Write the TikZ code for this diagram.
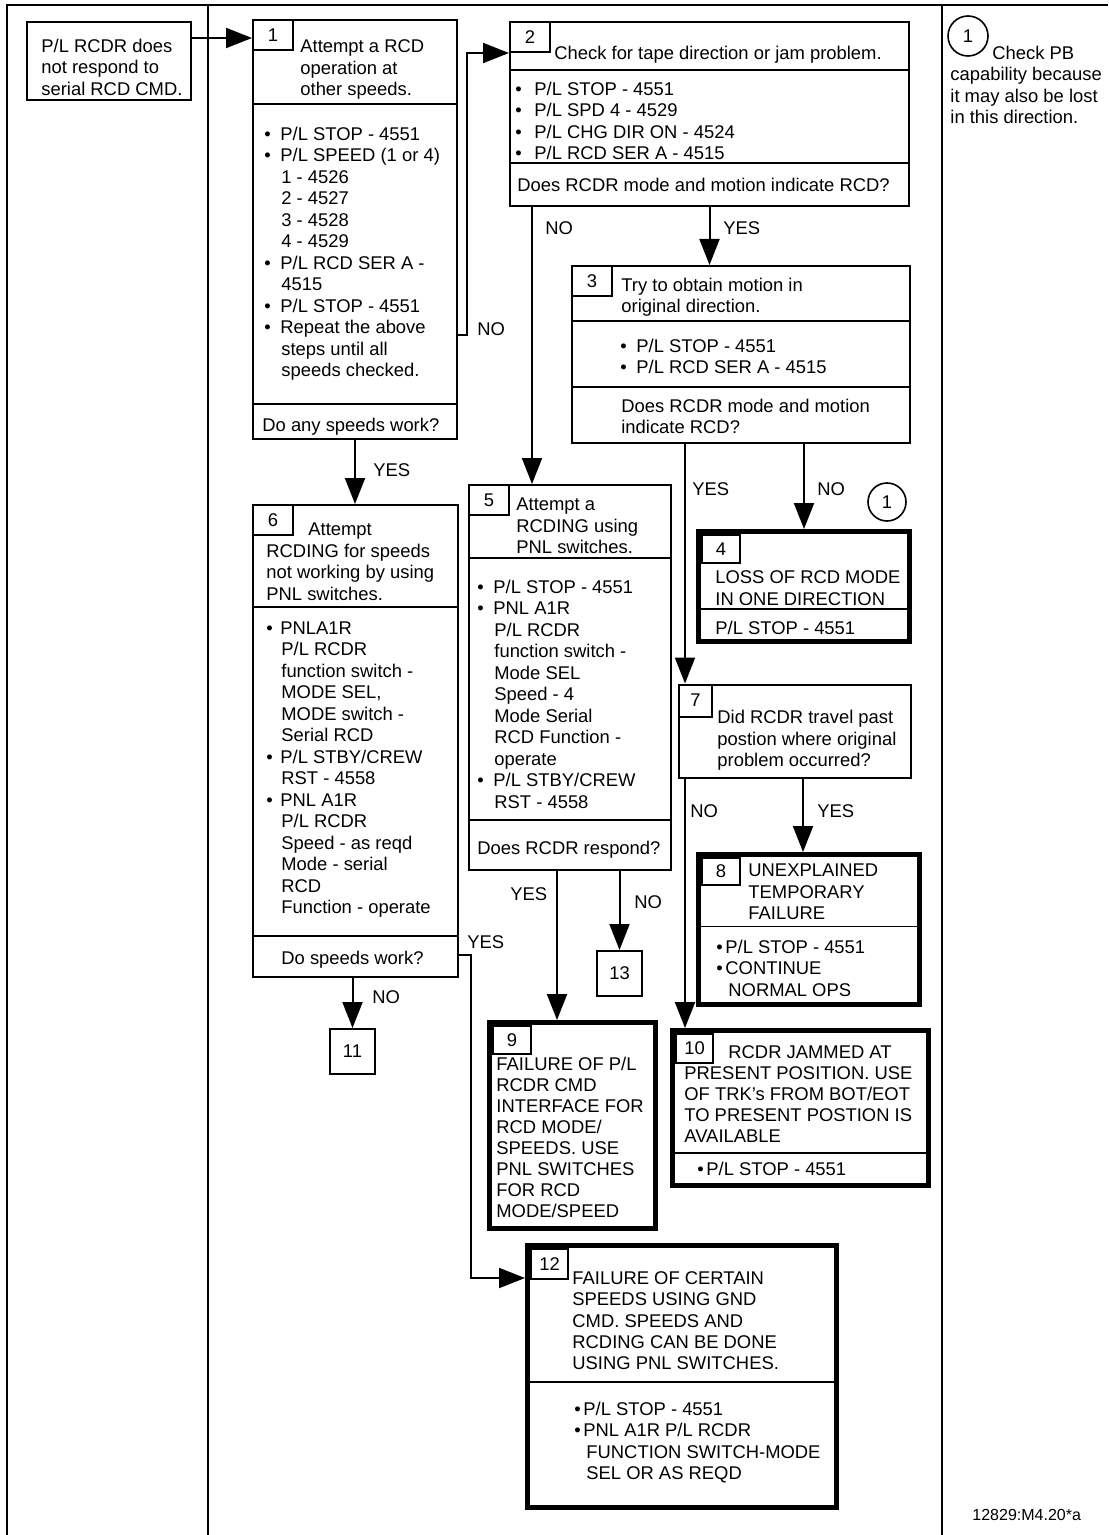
\documentclass[tikz,border=0pt]{standalone}
\usepackage{fontspec}
\setmainfont{Liberation Sans}
\usetikzlibrary{arrows.meta,positioning,fit}
\newcommand{\bl}[1][8pt]{\makebox[#1][l]{\textbullet}}
\newcommand{\ind}[1][8.5pt]{\hspace*{#1}}

\begin{document}
\begin{tikzpicture}[x=0.5pt, y=-0.5pt,
  font=\fontsize{9.2}{10.75}\selectfont,
  box/.style={draw, line width=1pt, inner sep=0pt},
  endbox/.style={draw, line width=2.5pt, inner sep=0pt},
  numbox/.style={draw, line width=1pt, inner sep=0pt, minimum width=20pt,
                 minimum height=15pt, anchor=north west},
  txt/.style={inner sep=0pt, align=left, anchor=north west},
  lbl/.style={inner sep=0pt, anchor=west},
  note/.style={circle, draw, line width=0.8pt, minimum size=20pt, inner sep=0pt},
  sep/.style={line width=1pt},
  thinsep/.style={line width=0.7pt},
  frame/.style={line width=1pt},
  arr/.style={line width=1pt, -{Triangle[length=13pt, width=10pt]}}]
  \useasboundingbox (0,0) rectangle (1108,1535);
  % page frame and columns
  \draw[frame] (7,1535) -- (7,5) -- (1108,5);
  \draw[frame] (208,5) -- (208,1535);
  \draw[frame] (942,5) -- (942,1535);

  % start
  \node[box, fit={(27,22) (191,100)}] (b0) {};
  \node[txt] (t0) at (41,38.5) {P/L RCDR does\\not respond to\\serial RCD CMD.};

  % step 1
  \node[box, fit={(253,20) (457,439)}] (b1) {};
  \node[numbox] (n1) at (b1.north west) {1};
  \draw[sep] (b1.west |- 0,104) -- (b1.east |- 0,104);
  \draw[sep] (b1.west |- 0,404) -- (b1.east |- 0,404);
  \node[txt] (t1h) at (300,39.5) {Attempt a RCD\\operation at\\other speeds.};
  \node[txt] (t1b) at (264,126.5) {\bl P/L STOP - 4551\\\bl P/L SPEED (1 or 4)\\
    \ind 1 - 4526\\\ind 2 - 4527\\\ind 3 - 4528\\\ind 4 - 4529\\
    \bl P/L RCD SER A -\\\ind 4515\\\bl P/L STOP - 4551\\
    \bl Repeat the above\\\ind steps until all\\\ind speeds checked.};
  \node[txt] (t1q) at (262,417.5) {Do any speeds work?};

  % step 2
  \node[box, fit={(510,22) (909,206)}] (b2) {};
  \node[numbox] (n2) at (b2.north west) {2};
  \draw[sep] (b2.west |- 0,70) -- (b2.east |- 0,70);
  \draw[sep] (b2.west |- 0,163) -- (b2.east |- 0,163);
  \node[txt] (t2h) at (554,45.5) {Check for tape direction or jam problem.};
  \node[txt] (t2b) at (515,81.5) {\bl[9.5pt]P/L STOP - 4551\\\bl[9.5pt]P/L SPD 4 - 4529\\
    \bl[9.5pt]P/L CHG DIR ON - 4524\\\bl[9.5pt]P/L RCD SER A - 4515};
  \node[txt] (t2q) at (517,177.5) {Does RCDR mode and motion indicate RCD?};

  % step 3
  \node[box, fit={(572,266) (910,443)}] (b3) {};
  \node[numbox] (n3) at (b3.north west) {3};
  \draw[sep] (b3.west |- 0,321) -- (b3.east |- 0,321);
  \draw[sep] (b3.west |- 0,387) -- (b3.east |- 0,387);
  \node[txt] (t3h) at (621,277.5) {Try to obtain motion in\\original direction.};
  \node[txt] (t3b) at (620,338.5) {\bl P/L STOP - 4551\\\bl P/L RCD SER A - 4515};
  \node[txt] (t3q) at (621,398.5) {Does RCDR mode and motion\\indicate RCD?};

  % step 4
  \node[endbox, fit={(698.5,531.5) (909.5,641.5)}] (b4) {};
  \node[numbox, minimum width=19pt, minimum height=14pt] (n4)
    at ([shift={(2.5pt,-2.5pt)}]b4.north west) {4};
  \draw[thinsep] (b4.west |- 0,609) -- (b4.east |- 0,609);
  \node[txt] (t4h) at (715,570.5) {LOSS OF RCD MODE\\IN ONE DIRECTION};
  \node[txt] (t4b) at (715,620.5) {P/L STOP - 4551};
  \node[note, minimum size=19pt] (c2) at (887,502) {1};

  % step 5
  \node[box, fit={(469,485) (671,870)}] (b5) {};
  \node[numbox] (n5) at (b5.north west) {5};
  \draw[sep] (b5.west |- 0,558) -- (b5.east |- 0,558);
  \draw[sep] (b5.west |- 0,820) -- (b5.east |- 0,820);
  \node[txt] (t5h) at (516,497.5) {Attempt a\\RCDING using\\PNL switches.};
  \node[txt] (t5b) at (477,579.5) {\bl P/L STOP - 4551\\\bl PNL A1R\\
    \ind P/L RCDR\\\ind function switch -\\\ind Mode SEL\\\ind Speed - 4\\
    \ind Mode Serial\\\ind RCD Function -\\\ind operate\\
    \bl P/L STBY/CREW\\\ind RST - 4558};
  \node[txt] (t5q) at (477,840.5) {Does RCDR respond?};

  % step 6
  \node[box, fit={(253,505) (458,977)}] (b6) {};
  \node[numbox] (n6) at (b6.north west) {6};
  \draw[sep] (b6.west |- 0,607) -- (b6.east |- 0,607);
  \draw[sep] (b6.west |- 0,936) -- (b6.east |- 0,936);
  \node[txt] (t6h) at (266,522.5) {\hspace*{21pt}Attempt\\RCDING for speeds\\
    not working by using\\PNL switches.};
  \node[txt] (t6b) at (266,621) {\bl[7pt]PNLA1R\\\ind[7.5pt]P/L RCDR\\
    \ind[7.5pt]function switch -\\\ind[7.5pt]MODE SEL,\\\ind[7.5pt]MODE switch -\\
    \ind[7.5pt]Serial RCD\\\bl[7pt]P/L STBY/CREW\\\ind[7.5pt]RST - 4558\\
    \bl[7pt]PNL A1R\\\ind[7.5pt]P/L RCDR\\\ind[7.5pt]Speed - as reqd\\
    \ind[7.5pt]Mode - serial\\\ind[7.5pt]RCD\\\ind[7.5pt]Function - operate};
  \node[txt] (t6q) at (281,950.5) {Do speeds work?};

  % step 7
  \node[box, fit={(679,684.5) (911,777.5)}] (b7) {};
  \node[numbox, minimum width=16.5pt, minimum height=16pt] (n7) at (b7.north west) {7};
  \node[txt] (t7) at (717,710) {Did RCDR travel past\\postion where original\\
    problem occurred?};

  % step 8
  \node[endbox, fit={(698.5,854.5) (919.5,1004.5)}] (b8) {};
  \node[numbox, minimum width=19pt, minimum height=13.5pt] (n8)
    at ([shift={(2.5pt,-2.5pt)}]b8.north west) {8};
  \draw[thinsep] (b8.west |- 0,926.5) -- (b8.east |- 0,926.5);
  \node[txt] (t8h) at (748,863.5) {UNEXPLAINED\\TEMPORARY\\FAILURE};
  \node[txt] (t8b) at (716,939.5) {\bl[4.5pt]P/L STOP - 4551\\\bl[4.5pt]CONTINUE\\
    \ind[6pt]NORMAL OPS};

  % step 9
  \node[endbox, fit={(489.5,1022.5) (655.5,1228.5)}] (b9) {};
  \node[numbox, minimum width=19pt, minimum height=14pt] (n9)
    at ([shift={(2.5pt,-2.5pt)}]b9.north west) {9};
  \node[txt, font=\fontsize{9.2}{10.5}\selectfont] (t9) at (496,1056.5)
    {FAILURE OF P/L\\RCDR CMD\\INTERFACE FOR\\RCD MODE/\\SPEEDS. USE\\
     PNL SWITCHES\\FOR RCD\\MODE/SPEED};

  % step 10
  \node[endbox, fit={(672.5,1030.5) (928.5,1185.5)}] (b10) {};
  \node[numbox, minimum width=18.5pt, minimum height=14.5pt] (n10)
    at ([shift={(2.5pt,-2.5pt)}]b10.north west) {10};
  \draw[thinsep] (b10.west |- 0,1153) -- (b10.east |- 0,1153);
  \node[txt, font=\fontsize{9.2}{10.5}\selectfont] (t10h) at (684,1045.5)
    {\hspace*{22pt}RCDR JAMMED AT\\PRESENT POSITION. USE\\OF TRK's FROM BOT/EOT\\
     TO PRESENT POSTION IS\\AVAILABLE};
  \node[txt] (t10b) at (697,1161.5) {\bl[4.5pt]P/L STOP - 4551};

  % steps 11 and 13
  \node[box, minimum width=22.5pt, minimum height=22.5pt] (b11) at (352.5,1051.5) {11};
  \node[box, minimum width=22.5pt, minimum height=22.5pt] (b13) at (619.5,973.5) {13};

  % step 12
  \node[endbox, fit={(527.5,1245.5) (836.5,1507.5)}] (b12) {};
  \node[numbox, minimum width=18.5pt, minimum height=15pt] (n12)
    at ([shift={(2.5pt,-2.5pt)}]b12.north west) {12};
  \draw[thinsep] (b12.west |- 0,1382) -- (b12.east |- 0,1382);
  \node[txt, font=\fontsize{9.2}{10.6}\selectfont] (t12h) at (572,1271.5)
    {FAILURE OF CERTAIN\\SPEEDS USING GND\\CMD. SPEEDS AND\\
     RCDING CAN BE DONE\\USING PNL SWITCHES.};
  \node[txt, font=\fontsize{9.2}{10.6}\selectfont] (t12b) at (574,1402)
    {\bl[4.5pt]P/L STOP - 4551\\\bl[4.5pt]PNL A1R P/L RCDR\\
     \ind[6pt]FUNCTION SWITCH-MODE\\\ind[6pt]SEL OR AS REQD};

  % note column
  \node[note] (c1) at (968,36) {1};
  \node[txt] (tn) at (950,45.5) {\hspace*{21pt}Check PB\\capability because\\
    it may also be lost\\in this direction.};
  \node[lbl, font=\fontsize{8}{9.6}\selectfont] (ref) at (972,1515) {12829:M4.20*a};

  % connectors
  \draw[arr] (b0.east |- 0,38) -- (b1.west |- 0,38);
  \draw[arr] (b1.east |- 0,335) -| (467,53) -- (b2.west |- 0,53);
  \draw[arr] (b2.south -| 532,0) -- (b5.north -| 532,0);
  \draw[arr] (b2.south) -- (b2.south |- b3.north);
  \draw[arr] (b4.north |- b3.south) -- (b4.north);
  \draw[arr] (b3.south -| 685,0) -- (b7.north -| 685,0);
  \draw[arr] (b1.south) -- (b1.south |- b6.north);
  \draw[arr] (b7.south -| 685,0) -- (b10.north -| 685,0);
  \draw[arr] (b7.south -| 803,0) -- (b8.north -| 803,0);
  \draw[arr] (b5.south -| 557,0) -- (b9.north -| 557,0);
  \draw[arr] (b13.north |- b5.south) -- (b13.north);
  \draw[arr] (b11.north |- b6.south) -- (b11.north);
  \draw[arr] (b6.east |- 0,955) -| (471,1278) -- (b12.west |- 0,1278);

  % branch labels
  \node[lbl] (l12) at (477,329) {NO};
  \node[lbl] (l25) at (545,228) {NO};
  \node[lbl] (l23) at (723,228) {YES};
  \node[lbl] (l16) at (373,470) {YES};
  \node[lbl] (l37) at (692,489) {YES};
  \node[lbl] (l34) at (817,489) {NO};
  \node[lbl] (l710) at (690,811) {NO};
  \node[lbl] (l78) at (817,811) {YES};
  \node[lbl] (l59) at (510,894) {YES};
  \node[lbl] (l513) at (634,902) {NO};
  \node[lbl] (l612) at (467,942) {YES};
  \node[lbl] (l611) at (372,997) {NO};
\end{tikzpicture}
\end{document}
